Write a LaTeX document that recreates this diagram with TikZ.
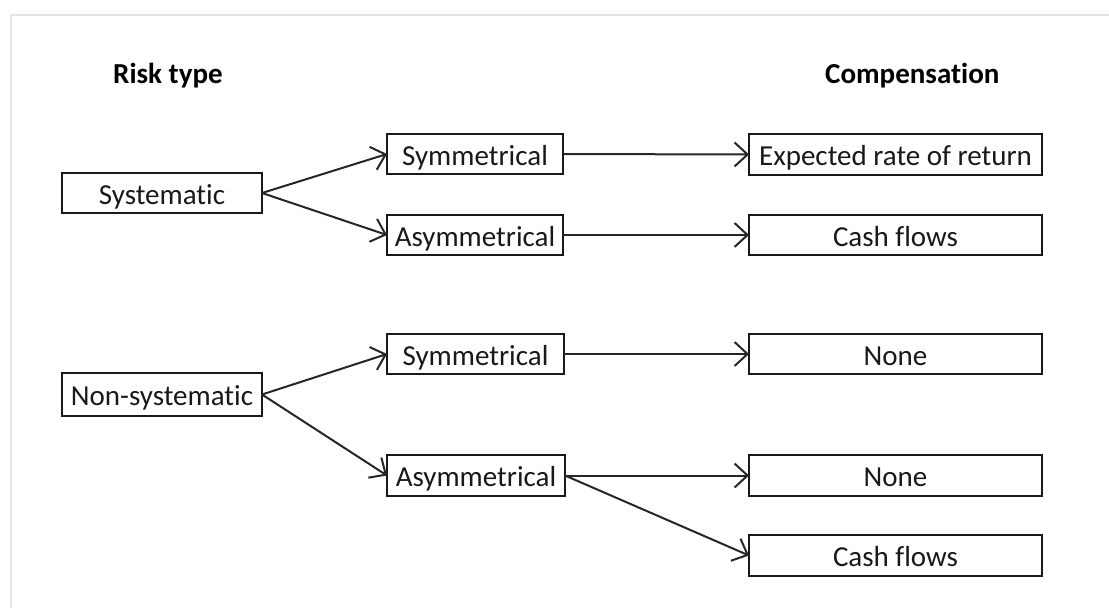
\documentclass[tikz,border=0pt]{standalone}
\usepackage{fontspec}
\setmainfont{Carlito}[Ligatures=NoCommon]
\usetikzlibrary{arrows.meta}
\begin{document}
\begin{tikzpicture}[x=1pt,y=-1pt,
  box/.style={draw=black!90, line width=2.2pt, rectangle, inner sep=0pt, outer sep=0pt,
    text height=22pt, text depth=0pt,
    font=\fontsize{29}{32}\selectfont, text=black!90},
  hdr/.style={font=\bfseries\fontsize{29}{32}\selectfont, anchor=base west, inner sep=0pt},
  link/.style={draw=black!85, line width=2pt, -{Straight Barb[length=13pt,width=24pt,line width=2pt]}},
  frame/.style={draw=black!10, line width=2pt}]
\useasboundingbox (0,0) rectangle (1109,608);
\draw[frame] (11,608) -- (11,15) -- (1109,15);

\node[hdr] (h1) at (113,83) {Risk type};
\node[hdr] (h2) at (825,83) {Compensation};

\node[box, minimum width=200pt, minimum height=40pt] (sys) at (162,193) {Systematic};
\node[box, minimum width=176pt, minimum height=40pt] (sym1) at (475,154) {Symmetrical};
\node[box, minimum width=176pt, minimum height=40pt] (asym1) at (475,235) {Asymmetrical};
\node[box, minimum width=293pt, minimum height=41pt] (exp) at (895.5,154.5) {Expected rate of return};
\node[box, minimum width=293pt, minimum height=40pt] (cash1) at (895.5,235) {Cash flows};

\node[box, minimum width=200pt, minimum height=43pt] (nsys) at (162,394.5) {Non-systematic};
\node[box, minimum width=177pt, minimum height=40pt] (sym2) at (475.5,354) {Symmetrical};
\node[box, minimum width=178pt, minimum height=41pt] (asym2) at (476,475.5) {Asymmetrical};
\node[box, minimum width=293pt, minimum height=40pt] (none1) at (895.5,354) {None};
\node[box, minimum width=293pt, minimum height=41pt] (none2) at (895.5,475.5) {None};
\node[box, minimum width=293pt, minimum height=41pt] (cash2) at (895.5,555.5) {Cash flows};

\draw[link] (sys.east) -- (sym1.west);
\draw[link] (sys.east) -- (asym1.west);
\draw[link] (sym1.east) -- (exp.west);
\draw[link] (asym1.east) -- (cash1.west);
\draw[link] (nsys.east) -- (sym2.west);
\draw[link] (nsys.east) -- (asym2.west);
\draw[link] (sym2.east) -- (none1.west);
\draw[link] (asym2.east) -- (none2.west);
\draw[link] (asym2.east) -- (cash2.west);
\end{tikzpicture}
\end{document}
